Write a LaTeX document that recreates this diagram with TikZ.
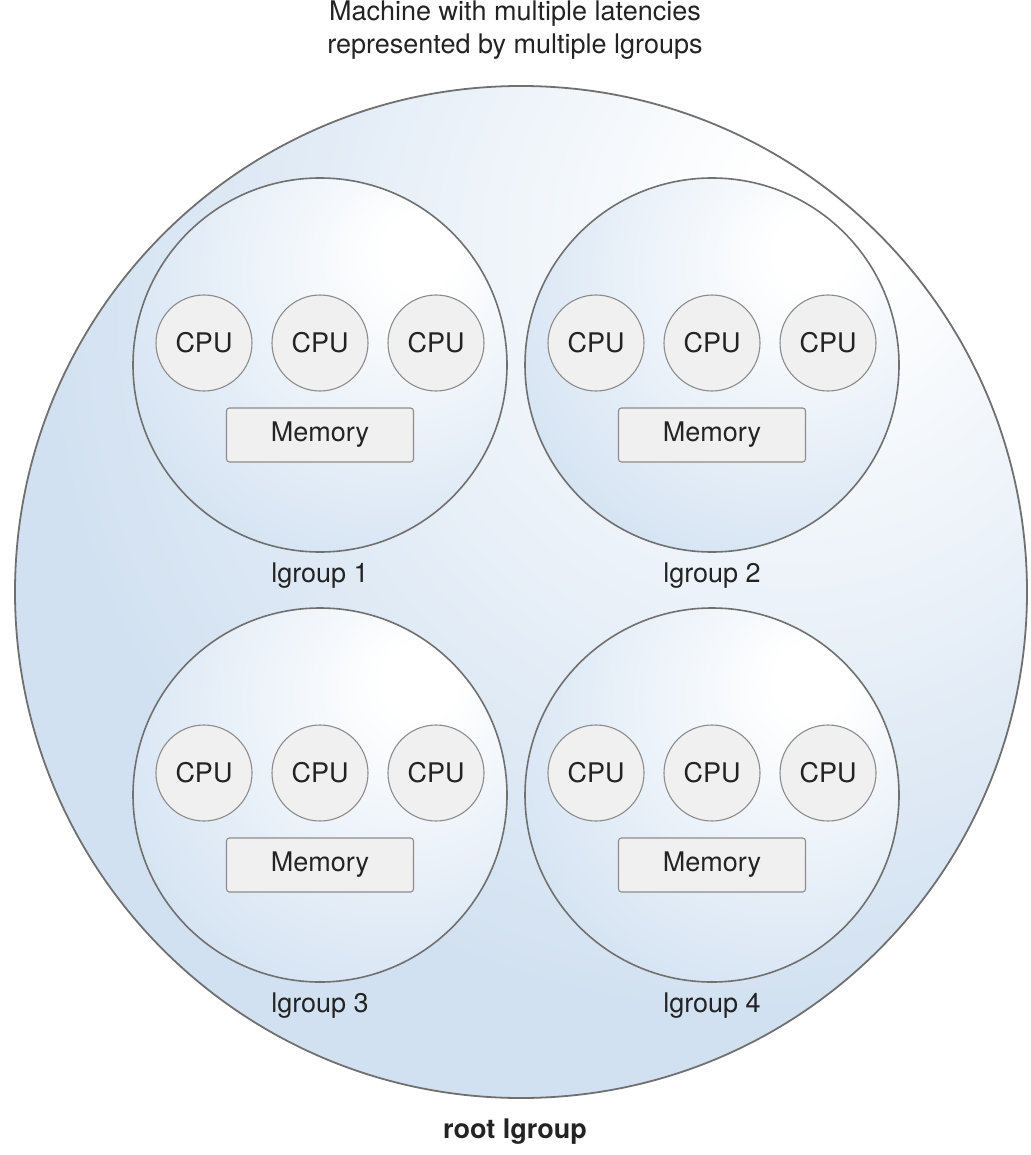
\documentclass[tikz,border=0pt]{standalone}
\usepackage{fontspec}
\setmainfont{TeX Gyre Heros}
\usepackage{tikz}

\definecolor{rootblue}{RGB}{210,225,241}
\definecolor{grpblue}{RGB}{214,228,243}
\definecolor{rimgray}{RGB}{112,112,112}
\definecolor{cpugray}{RGB}{240,240,240}
\definecolor{cpurim}{RGB}{140,140,140}
\definecolor{inkgray}{RGB}{35,35,35}

\pgfdeclareradialshading{rootglow}{\pgfpoint{16bp}{20bp}}%
  {color(0bp)=(white); color(4bp)=(white); color(34bp)=(rootblue); color(100bp)=(rootblue)}
\pgfdeclareradialshading{grpglow}{\pgfpoint{14bp}{16bp}}%
  {color(0bp)=(white); color(5bp)=(white); color(38bp)=(grpblue); color(100bp)=(grpblue)}

\begin{document}
\begin{tikzpicture}
  [x=1pt,y=-1pt,font=\fontsize{27}{33}\selectfont,text=inkgray,
   every node/.style={inner sep=0pt,outer sep=0pt},
   rootdisc/.style={circle,shade,shading=rootglow,draw=rimgray,line width=1.8pt,minimum size=1012pt},
   grpdisc/.style={circle,shade,shading=grpglow,draw=rimgray,line width=1.6pt,minimum size=374pt},
   cpudisc/.style={circle,fill=cpugray,draw=cpurim,line width=1.1pt,minimum size=96pt},
   membox/.style={rectangle,rounded corners=3pt,fill=cpugray,draw=cpurim,line width=1.1pt,
     minimum width=187pt,minimum height=54pt}]
  \useasboundingbox (0,0) rectangle (1030,1155);

  \node [align=center] (title) at (515,30) {Machine with multiple latencies\\represented by multiple lgroups};
  \node [rootdisc] (root) at (521,592) {};
  \node [font=\fontsize{27}{33}\selectfont\bfseries] (rootlbl) at (515,1132) {root lgroup};

  \foreach \g/\x/\y in {1/320/365,2/712/365,3/320/795,4/712/795} {
    \node [grpdisc] (grp\g) at (\x,\y) {};
    \node [cpudisc] (cpu\g a) at (\x-116,\y-22) {CPU};
    \node [cpudisc] (cpu\g b) at (\x,\y-22) {CPU};
    \node [cpudisc] (cpu\g c) at (\x+116,\y-22) {CPU};
    \node [membox] (mem\g) at (\x,\y+70) {Memory};
    \node (lbl\g) at (\x,\y+211) {lgroup \g};
  }

\end{tikzpicture}
\end{document}
